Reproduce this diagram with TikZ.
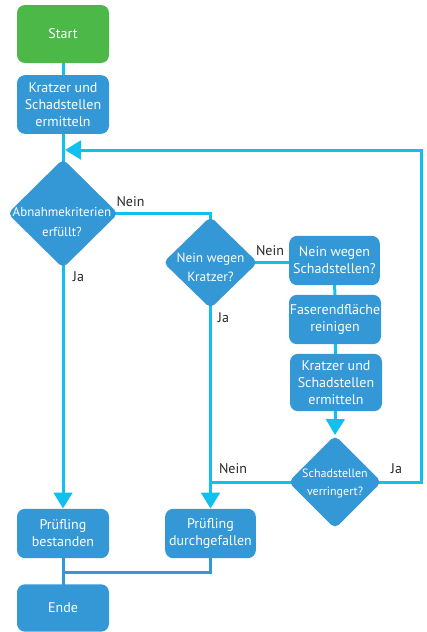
\documentclass[tikz,border=0pt]{standalone}
\usepackage{fontspec}
\setmainfont{PT Sans}
\usepackage{tikz}
\usetikzlibrary{shapes.geometric,arrows.meta}
\definecolor{boxblue}{HTML}{3498D6}
\definecolor{startgreen}{HTML}{4CB848}
\definecolor{flowcyan}{HTML}{12C0F0}
\pgfdeclarelayer{bg}
\pgfsetlayers{bg,main}
\tikzset{
  stepbox/.style={rectangle, rounded corners=6pt, fill=boxblue, text=white, minimum width=69pt, align=center, inner sep=0pt, font=\fontsize{10.5}{12.75}\selectfont},
  startbox/.style={stepbox, fill=startgreen},
  decbox/.style={diamond, aspect=1, rounded corners=4pt, fill=boxblue, inner sep=0pt},
  dectext/.style={text=white, align=center, inner sep=0pt, font=\fontsize{10}{14.3}\selectfont},
  yesno/.style={text=black!85, inner sep=0pt, font=\fontsize{10.5}{12}\selectfont},
  flow/.style={draw=flowcyan, line width=2.25pt},
  flowarrow/.style={flow, -{Triangle[width=14pt,length=12pt]}},
  joinline/.style={draw=boxblue, line width=2.25pt},
}

\begin{document}
\begin{tikzpicture}[x=0.75pt,y=0.75pt,yscale=-1,xscale=1]
\useasboundingbox (0,0) rectangle (427,632);

% Text Node
\node [startbox, minimum height=43.5pt] (start) at (63,34) {Start};
% Text Node
\node [stepbox, minimum height=44pt] (find1) at (63,104.5) {Kratzer und\\Schadstellen\\ermitteln};
% Text Node
\node [decbox, minimum width=83pt, minimum height=82pt] (accept) at (63,213.5) {};
\node [dectext, font=\fontsize{9.7}{14.5}\selectfont] (accepttext) at (62,222) {Abnahmekriterien\\erfüllt?};
% Text Node
\node [decbox, minimum width=71pt, minimum height=69pt] (scratch) at (210.5,262.5) {};
\node [dectext] (scratchtext) at (210.5,267.5) {Nein wegen\\Kratzer?};
% Text Node
\node [stepbox, minimum width=68pt, minimum height=37pt] (spots) at (334.5,260.5) {Nein wegen\\Schadstellen?};
% Text Node
\node [stepbox, minimum height=37pt] (clean) at (335,319.5) {Faserendfläche\\reinigen};
% Text Node
\node [stepbox, minimum height=43pt] (find2) at (336,382.5) {Kratzer und\\Schadstellen\\ermitteln};
% Text Node
\node [decbox, minimum width=70pt, minimum height=70pt] (less) at (335,482) {};
\node [dectext, font=\fontsize{9}{13.5}\selectfont] (lesstext) at (335,483) {Schadstellen\\verringert?};
% Text Node
\node [stepbox, minimum height=37pt] (passed) at (63,533.5) {Prüfling\\bestanden};
% Text Node
\node [stepbox, minimum width=68pt, minimum height=37pt] (failed) at (210.5,533.5) {Prüfling\\durchgefallen};
% Text Node
\node [stepbox, minimum height=35.5pt] (finish) at (63,608) {Ende};

% Text Node
\node [yesno] (nein1) at (130.5,202) {Nein};
\node [yesno] (ja1) at (78.5,277) {Ja};
\node [yesno] (nein2) at (270,251) {Nein};
\node [yesno] (ja2) at (223.5,318) {Ja};
\node [yesno] (nein3) at (233,469) {Nein};
\node [yesno] (ja3) at (396.5,469) {Ja};

\coordinate (loopin) at (65,150);
\coordinate (loopturn) at (421,150);
\coordinate (merge) at (63,572);

\begin{pgfonlayer}{bg}
% Connection
\draw [flow] (start.center) -- (find1.center) -- (accept.center);
% Connection
\draw [flow] (accept.center) -| (scratch.center);
% Connection
\draw [flowarrow] (accept.center) -- (passed.north);
% Connection
\draw [flow] (scratch.center) -- (scratch.center -| spots.center);
% Connection
\draw [flowarrow] (scratch.center) -- (failed.north);
% Connection
\draw [flow] (spots.center) -- (clean.center) -- (find2.center);
% Connection
\draw [flowarrow] (find2.center) -- (less.north);
% Connection
\draw [flow] (less.center) -- (less.center -| failed.center);
% Connection
\draw [flowarrow] (less.center) -| (loopturn) -- (loopin);
% Connection
\draw [joinline] (passed.center) -- (finish.center);
% Connection
\draw [joinline] (failed.center) |- (merge);
\end{pgfonlayer}

\end{tikzpicture}
\end{document}
